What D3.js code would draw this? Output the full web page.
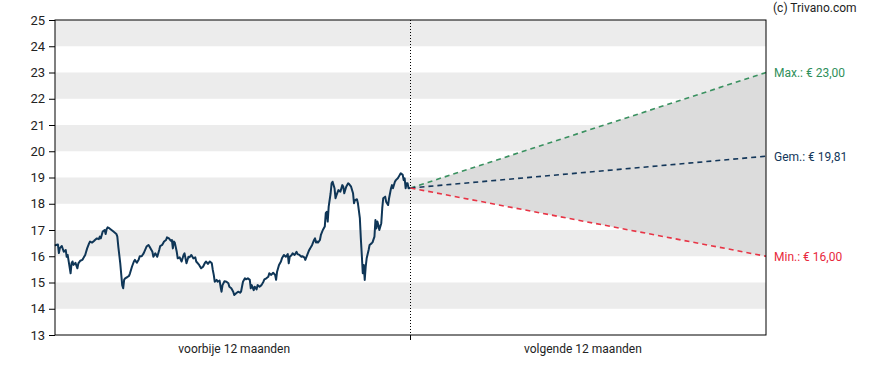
<!DOCTYPE html>
<html><head><meta charset="utf-8">
<script src="https://cdn.jsdelivr.net/npm/d3@7"></script>
<style>body{margin:0;background:#fff;font-family:Roboto,Arial,sans-serif}</style>
</head><body><svg id="c" width="888" height="370"></svg>
<script>
const days = [0,1,3,4,5,7,9,11,12,13,16,17,18,19,21,23,24,26,28,29,31,33,35,36,38,40,41,43,45,46,47,49,51,52,53,54,56,58,60,63,64,65,67,69,70,71,72,74,76,77,79,81,82,84,86,87,89,91,94,96,97,100,101,103,105,107,108,110,112,114,115,117,119,120,121,122,123,125,126,128,130,132,133,135,137,138,140,142,144,145,148,150,152,154,155,157,159,161,162,163,164,166,167,169,170,171,172,174,176,178,179,181,183,184,186,188,190,191,193,195,196,198,200,201,202,204,205,207,208,210,212,214,215,217,219,220,222,224,226,227,228,230,232,233,235,237,239,240,241,243,244,246,248,249,251,253,254,256,257,259,261,262,264,266,267,268,269,270,272,273,275,277,278,279,280,281,283,284,285,287,288,289,291,293,295,296,297,299,301,302,304,306,307,308,310,311,313,314,315,316,317,318,319,320,322,323,325,326,328,329,330,331,332,333,335,336,337,339,340,342,343,345,346,347,349,350,352,354,355,357,358,359,360,361,362,363,365];
const prices = [16.4,16.43,16.45,16.12,16.31,16.39,16.17,16.24,15.98,16.05,15.35,15.73,15.8,15.67,15.75,15.54,15.73,15.83,15.86,15.92,16.05,16.3,16.49,16.56,16.52,16.58,16.62,16.68,16.65,16.75,16.68,16.94,17.0,16.85,17.03,17.1,17.06,17.0,16.94,16.85,16.75,16.37,15.73,14.9,14.78,15.1,15.16,15.2,15.25,15.35,15.6,15.8,15.86,15.75,15.88,16.0,16.0,16.11,16.37,16.43,16.37,16.17,15.98,16.11,15.98,16.24,16.39,16.43,16.56,16.62,16.72,16.68,16.59,16.62,16.3,16.56,16.52,16.17,15.92,15.96,15.8,16.05,16.11,15.73,15.98,15.96,16.05,15.92,15.96,15.8,15.67,15.54,15.6,15.75,15.8,15.71,15.8,15.73,15.48,15.29,15.03,15.1,15.03,15.07,14.84,14.65,14.9,15.05,15.03,14.97,14.84,14.78,14.65,14.52,14.59,14.65,14.61,14.65,15.03,15.16,15.12,15.16,15.1,14.78,14.9,14.71,14.84,14.74,14.9,14.84,14.9,15.03,15.12,15.16,15.22,15.35,15.29,15.37,15.29,15.1,15.41,15.67,15.8,15.92,16.05,15.98,16.08,15.73,15.98,16.05,16.11,16.05,16.17,16.08,16.05,15.98,16.0,15.96,15.86,16.05,16.24,16.3,16.43,16.62,16.68,16.52,16.56,16.52,16.62,16.81,17.0,17.13,17.64,17.69,17.32,17.89,18.4,18.78,18.84,18.59,18.21,18.33,18.52,18.46,18.71,18.65,18.4,18.65,18.78,18.75,18.65,18.4,18.02,18.14,18.17,18.02,17.45,16.68,16.05,15.35,15.67,15.1,15.6,15.92,16.24,16.43,16.49,16.53,16.75,17.38,17.06,17.32,17.19,17.0,17.26,17.83,18.21,18.27,18.08,17.95,18.21,18.59,18.71,18.59,18.84,18.9,18.97,19.1,19.16,19.1,18.9,18.97,18.59,18.78,18.78,18.59,18.6];
const forecastDays = [365, 730];
const forecastMax = [18.6, 23.00];
const forecastAvg = [18.6, 19.81];
const forecastMin = [18.6, 16.00];
const yTicks = [13,14,15,16,17,18,19,20,21,22,23,24,25];
const stripes = [[14,15],[16,17],[18,19],[20,21],[22,23],[24,25]];
const periodLabels = ["voorbije 12 maanden","volgende 12 maanden"];
const periodCenters = [184, 542];
const labels = ["Max.: € 23,00","Gem.: € 19,81","Min.: € 16,00"];
const labelValues = [23.00, 19.81, 16.00];
const labelColors = ["#2f8f5b","#14375a","#e8283c"];
const credit = "(c) Trivano.com";

const svg = d3.select("#c");
const L=55, R=766, T=20, B=335;
const x = d3.scaleLinear().domain([0,730]).range([L,R]);
const y = d3.scaleLinear().domain([13,25]).range([B,T]);

svg.selectAll("rect.s").data(stripes).enter().append("rect")
  .attr("x",L).attr("width",R-L)
  .attr("y",d=>y(d[1])).attr("height",d=>y(d[0])-y(d[1]))
  .attr("fill","#ececec");

const area = d3.area().x((d,i)=>x(forecastDays[i])).y0((d,i)=>y(forecastMin[i])).y1((d,i)=>y(forecastMax[i]));
svg.append("path").datum(forecastDays).attr("d",area).attr("fill","#dcdcdc");

svg.append("line").attr("x1",x(365)).attr("x2",x(365)).attr("y1",T).attr("y2",B)
  .attr("stroke","#000").attr("stroke-width",1).attr("stroke-dasharray","1,2");

const line = d3.line().x((d,i)=>x(days[i])).y(d=>y(d));
svg.append("path").datum(prices).attr("d",line).attr("fill","none")
  .attr("stroke","#0f3657").attr("stroke-width",2).attr("stroke-linejoin","round");

const fl = (arr,col)=>{
  const ln = d3.line().x((d,i)=>x(forecastDays[i])).y(d=>y(d));
  svg.append("path").datum(arr).attr("d",ln).attr("fill","none")
    .attr("stroke",col).attr("stroke-width",1.6).attr("stroke-dasharray","5,4");
};
fl(forecastMax,"#3a9160");
fl(forecastAvg,"#14375a");
fl(forecastMin,"#e83445");

svg.append("rect").attr("x",L).attr("y",T).attr("width",R-L).attr("height",B-T)
  .attr("fill","none").attr("stroke","#000").attr("stroke-width",1);

const ya = svg.append("g").attr("transform",`translate(${L},0)`)
  .call(d3.axisLeft(y).tickValues(yTicks).tickSize(6).tickFormat(d3.format("d")));
ya.select(".domain").remove();
ya.selectAll("text").attr("font-family","Roboto, Arial, sans-serif").attr("font-size",13).attr("fill","#222").attr("dx",-1);

svg.append("line").attr("x1",x(365)).attr("x2",x(365)).attr("y1",B).attr("y2",B+5).attr("stroke","#000");

svg.selectAll("text.p").data(periodLabels).enter().append("text")
  .attr("x",(d,i)=>x(periodCenters[i])).attr("y",353).attr("text-anchor","middle")
  .attr("font-size",12).attr("fill","#222").text(d=>d);

svg.selectAll("text.l").data(labels).enter().append("text")
  .attr("x",774).attr("y",(d,i)=>y(labelValues[i])+4.5)
  .attr("font-size",12).attr("fill",(d,i)=>labelColors[i]).text(d=>d);

svg.append("text").attr("x",773).attr("y",12).attr("font-size",12).attr("fill","#222").text(credit);
</script></body></html>
